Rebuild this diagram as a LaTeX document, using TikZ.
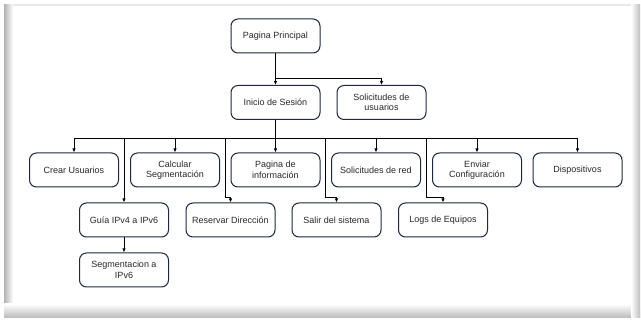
\documentclass[tikz,border=0pt]{standalone}
\usepackage{fontspec}
\setmainfont{Liberation Sans}
\usetikzlibrary{arrows.meta}
\definecolor{boxline}{RGB}{28,40,62}
\definecolor{txt}{RGB}{40,40,40}
\begin{document}
\begin{tikzpicture}[x=1pt,y=-1pt,
  box/.style={draw=boxline,line width=1pt,rounded corners=7pt,fill=white,
    minimum width=89pt,minimum height=34pt,inner sep=1pt,align=center,
    text=txt,font=\fontsize{9}{10.5}\selectfont},
  arr/.style={draw=black,line width=0.8pt,-{Latex[length=4pt,width=3.4pt]}},
  ln/.style={draw=black,line width=0.8pt}]
\useasboundingbox (0,0) rectangle (641,320);
\fill[white] (0,0) rectangle (641,320);
% frame with soft shadow
\fill[gray!18] (4,4) rectangle (634,6.5);
\shade[left color=gray!60,right color=white] (4,5) rectangle (13,318);
\shade[top color=white,bottom color=gray!55] (4,304) rectangle (640,318);
\shade[left color=white,right color=gray!50] (631,5) rectangle (640,318);
\fill[white] (13,6.5) rectangle (631,304);

% top levels
\node[box] (pp) at (275.5,36) {Pagina Principal};
\node[box] (is) at (275.5,102.5) {Inicio de Sesión};
\node[box] (su) at (381.5,102.5) {Solicitudes de\\usuarios};

% main menu row
\node[box] (c1) at (74,170) {Crear Usuarios};
\node[box] (c2) at (175,170) {Calcular\\Segmentación};
\node[box] (c3) at (275.5,170) {Pagina de\\información};
\node[box] (c4) at (376,170) {Solicitudes de red};
\node[box] (c5) at (477,170) {Enviar\\Configuración};
\node[box] (c6) at (577.5,170) {Dispositivos};

% second row
\node[box] (d1) at (124,220) {Guía IPv4 a IPv6};
\node[box] (d2) at (230.5,220) {Reservar Dirección};
\node[box] (d3) at (336.5,220) {Salir del sistema};
\node[box] (d4) at (443,220) {Logs de Equipos};

% third row
\node[box] (s1) at (124,270) {Segmentacion a\\IPv6};

% junction points
\coordinate (br) at (275.5,78);
\coordinate (bus) at (275.5,138);
\coordinate (e2) at (225,197);
\coordinate (e3) at (325.5,197);
\coordinate (e4) at (426,197);

% connectors
\draw[arr] (pp.south) -- (is.north);
\draw[arr] (br) -| (su.north);
\draw[ln] (is.south) -- (bus);
\draw[ln] (c1.north |- bus) -- (c6.north |- bus);
\foreach \n in {c1,c2,c3,c4,c5,c6}
  \draw[arr] (\n.north |- bus) -- (\n.north);
\draw[arr] (d1.north |- bus) -- (d1.north);
\draw[arr] (e2 |- bus) -- (e2) -| (d2.north);
\draw[arr] (e3 |- bus) -- (e3) -| (d3.north);
\draw[arr] (e4 |- bus) -- (e4) -| (d4.north);
\draw[arr] (d1.south) -- (s1.north);
\end{tikzpicture}
\end{document}
